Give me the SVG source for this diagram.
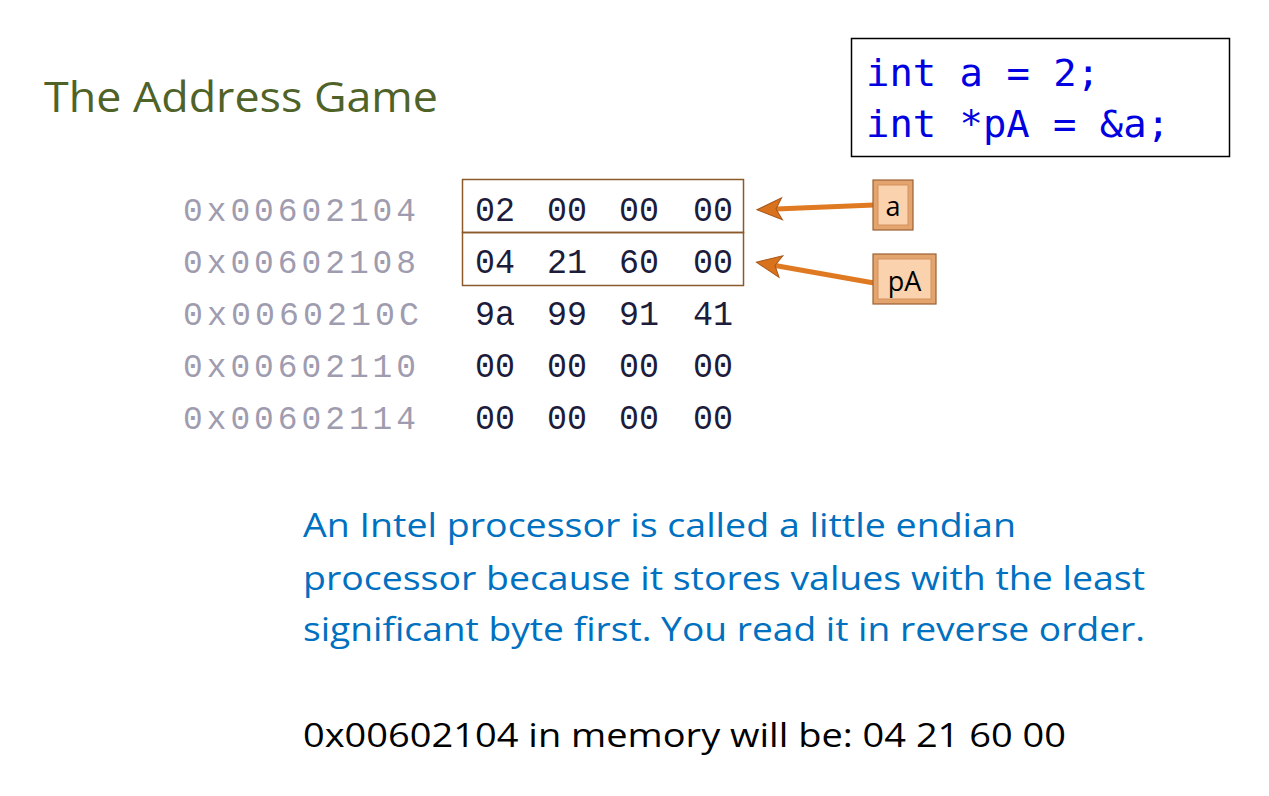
<svg xmlns="http://www.w3.org/2000/svg" width="1269" height="796" viewBox="0 0 1269 796">
<defs>
<style>
.title{font-family:"Open Sans","Noto Sans",sans-serif;font-size:42px;fill:#4f6228}
.code{font-family:"DejaVu Sans Mono","Liberation Mono",monospace;font-size:38px;fill:#0000e0}
.addr{font-family:"Liberation Mono","DejaVu Sans Mono",monospace;font-size:33px;fill:#a09cb0;letter-spacing:4px}
.byte{font-family:"Liberation Mono","DejaVu Sans Mono",monospace;font-size:35px;fill:#1c1c3c}
.blue{font-family:"Open Sans","Noto Sans",sans-serif;font-size:33px;fill:#0070c0}
.black{font-family:"Open Sans","Noto Sans",sans-serif;font-size:33px;fill:#000}
.lbl{font-family:"Open Sans","Noto Sans",sans-serif;font-size:27px;fill:#000}
.cell{fill:none;stroke:#8b5a2b;stroke-width:1.5}
.outer{fill:#e4a46e;stroke:#9c6234;stroke-width:1.2}
.inner{fill:#fad2ad;stroke:#d3925e;stroke-width:1}
.shaft{fill:none;stroke:#e07a22;stroke-width:5;stroke-linecap:round}
</style>
<marker id="ah" markerWidth="5" markerHeight="4.4" refX="1.2" refY="2.2" orient="auto" markerUnits="strokeWidth" overflow="visible">
<path d="M5,2.2 L0,0 L1.2,2.2 L0,4.4 Z" fill="#d8721c" stroke="#a8561a" stroke-width="0.2"/>
</marker>
</defs>
<rect width="1269" height="796" fill="#fff"/>
<text class="title" x="44" y="112" textLength="394" lengthAdjust="spacingAndGlyphs">The Address Game</text>
<g id="code">
<rect x="851.5" y="38.5" width="378" height="118" fill="#fff" stroke="#000" stroke-width="1.5"/>
<text class="code" x="866" y="86" textLength="234" lengthAdjust="spacingAndGlyphs">int a = 2;</text>
<text class="code" x="866" y="137" textLength="304" lengthAdjust="spacingAndGlyphs">int *pA = &amp;a;</text>
</g>
<g id="memory">
<rect class="cell" x="462.5" y="179.5" width="281" height="53"/>
<rect class="cell" x="462.5" y="232.5" width="281" height="53"/>
<text class="addr" x="183" y="221" textLength="237" lengthAdjust="spacingAndGlyphs">0x00602104</text>
<text class="addr" x="183" y="273" textLength="237" lengthAdjust="spacingAndGlyphs">0x00602108</text>
<text class="addr" x="183" y="325" textLength="240" lengthAdjust="spacingAndGlyphs">0x0060210C</text>
<text class="addr" x="183" y="377" textLength="237" lengthAdjust="spacingAndGlyphs">0x00602110</text>
<text class="addr" x="183" y="429" textLength="237" lengthAdjust="spacingAndGlyphs">0x00602114</text>
<g class="byte">
<text x="475" y="221" textLength="40" lengthAdjust="spacingAndGlyphs">02</text><text x="547" y="221" textLength="40" lengthAdjust="spacingAndGlyphs">00</text><text x="619" y="221" textLength="40" lengthAdjust="spacingAndGlyphs">00</text><text x="693" y="221" textLength="40" lengthAdjust="spacingAndGlyphs">00</text>
<text x="475" y="273" textLength="40" lengthAdjust="spacingAndGlyphs">04</text><text x="547" y="273" textLength="40" lengthAdjust="spacingAndGlyphs">21</text><text x="619" y="273" textLength="40" lengthAdjust="spacingAndGlyphs">60</text><text x="693" y="273" textLength="40" lengthAdjust="spacingAndGlyphs">00</text>
<text x="475" y="325" textLength="40" lengthAdjust="spacingAndGlyphs">9a</text><text x="547" y="325" textLength="40" lengthAdjust="spacingAndGlyphs">99</text><text x="619" y="325" textLength="40" lengthAdjust="spacingAndGlyphs">91</text><text x="693" y="325" textLength="40" lengthAdjust="spacingAndGlyphs">41</text>
<text x="475" y="377" textLength="40" lengthAdjust="spacingAndGlyphs">00</text><text x="547" y="377" textLength="40" lengthAdjust="spacingAndGlyphs">00</text><text x="619" y="377" textLength="40" lengthAdjust="spacingAndGlyphs">00</text><text x="693" y="377" textLength="40" lengthAdjust="spacingAndGlyphs">00</text>
<text x="475" y="429" textLength="40" lengthAdjust="spacingAndGlyphs">00</text><text x="547" y="429" textLength="40" lengthAdjust="spacingAndGlyphs">00</text><text x="619" y="429" textLength="40" lengthAdjust="spacingAndGlyphs">00</text><text x="693" y="429" textLength="40" lengthAdjust="spacingAndGlyphs">00</text>
</g>
</g>
<g id="connectors">
<path class="shaft" d="M874,205 L776,209" marker-end="url(#ah)"/>
<path class="shaft" d="M874,283 L775,265.5" marker-end="url(#ah)"/>
</g>
<g id="node-a">
<rect class="outer" x="873" y="180" width="40" height="50"/>
<rect class="inner" x="878" y="185" width="30" height="40"/>
<text class="lbl" x="893" y="216" text-anchor="middle">a</text>
</g>
<g id="node-pA">
<rect class="outer" x="873" y="254" width="63" height="50"/>
<rect class="inner" x="878" y="259" width="53" height="40"/>
<text class="lbl" x="904.5" y="291" text-anchor="middle">pA</text>
</g>
<g id="explanation">
<text class="blue" x="303" y="537" textLength="713" lengthAdjust="spacingAndGlyphs">An Intel processor is called a little endian</text>
<text class="blue" x="303" y="590" textLength="842" lengthAdjust="spacingAndGlyphs">processor because it stores values with the least</text>
<text class="blue" x="303" y="641" textLength="842" lengthAdjust="spacingAndGlyphs">significant byte first. You read it in reverse order.</text>
<text class="black" x="303" y="747" textLength="763" lengthAdjust="spacingAndGlyphs">0x00602104 in memory will be: 04 21 60 00</text>
</g>
</svg>
